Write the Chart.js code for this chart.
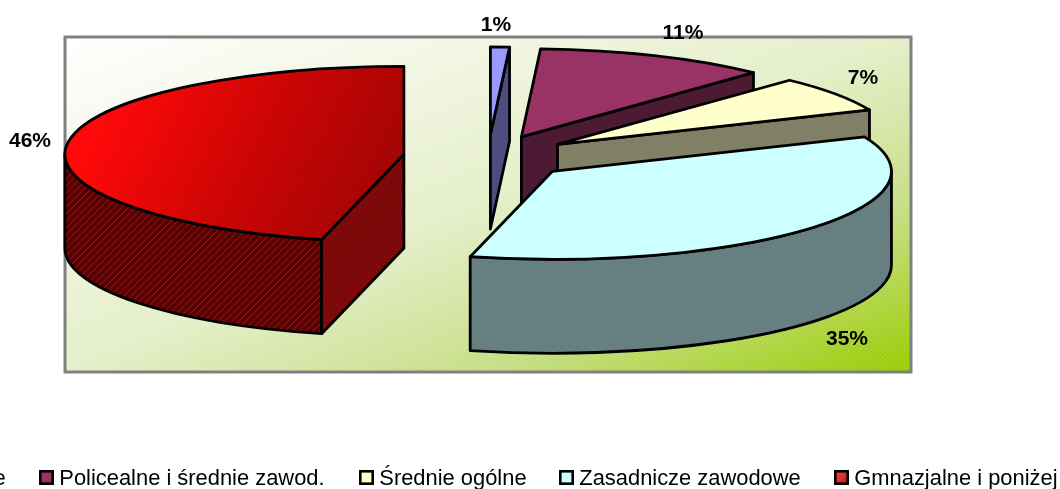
<!DOCTYPE html>
<html>
<head>
<meta charset="utf-8">
<style>
  html, body { margin: 0; padding: 0; background: #fff; overflow: hidden; }
  canvas { display: block; }
</style>
</head>
<body>
<canvas id="myChart" width="1060" height="489"></canvas>
<script src="https://cdn.jsdelivr.net/npm/chart.js@4"></script>
<script>
const categories = ["Wyższe", "Policealne i średnie zawod.", "Średnie ogólne", "Zasadnicze zawodowe", "Gmnazjalne i poniżej"];
const shares = [0.9, 11.1, 6.6, 35.3, 46.1];
const topColors = ["#9999FF", "#993366", "#FFFFCC", "#CCFFFF", "#FF0000"];
const wallColors = ["#4D4D80", "#4D1A33", "#808066", "#667F80", "#5A0000"];

// layout of the tilted pie on the page
const pie = { cx: 488, cy: 157, rx: 339, ry: 88, depth: 94, explode: 0.25 };
const plotBox = { x: 65, y: 37, w: 846, h: 335 };
const labelSpots = [[496, 25], [683, 33], [863, 78], [847, 339], [30, 141]];
const legendSpots = [-91, 39, 359, 559, 834];
const legendStyle = { y: 470, box: 15, gap: 5.3, font: "21.9px 'Liberation Sans'" };
const hatchedSlice = 4;

function hatch(size, color, width) {
  const c = document.createElement("canvas");
  c.width = c.height = size;
  const g = c.getContext("2d");
  g.strokeStyle = color;
  g.lineWidth = width;
  g.beginPath();
  g.moveTo(-1, 1);
  g.lineTo(1, -1);
  g.moveTo(0, size);
  g.lineTo(size, 0);
  g.moveTo(size - 1, size + 1);
  g.lineTo(size + 1, size - 1);
  g.stroke();
  return c;
}

function drawPlotBox(ctx, patterns) {
  const { x, y, w, h } = plotBox;
  ctx.save();
  ctx.save();
  ctx.translate(x, y);
  ctx.scale(w, h);
  const grad = ctx.createLinearGradient(0, 0, 1, 1);
  grad.addColorStop(0, "#FFFFFF");
  grad.addColorStop(0.5, "#E4EEC8");
  grad.addColorStop(0.75, "#C6DE85");
  grad.addColorStop(1, "#99CC00");
  ctx.fillStyle = grad;
  ctx.fillRect(0, 0, 1, 1);
  ctx.restore();
  ctx.fillStyle = patterns.paper;
  ctx.fillRect(x, y, w, h);
  ctx.strokeStyle = "#808080";
  ctx.lineWidth = 3;
  ctx.strokeRect(x, y, w, h);
  ctx.restore();
}

function sliceGeometry(arc) {
  const mid = (arc.startAngle + arc.endAngle) / 2;
  return {
    x: pie.cx + Math.cos(mid) * pie.explode * pie.rx,
    y: pie.cy + Math.sin(mid) * pie.explode * pie.ry,
    a0: arc.startAngle,
    a1: arc.endAngle
  };
}

function rim(s, angle, z) {
  return [s.x + Math.cos(angle) * pie.rx, s.y + Math.sin(angle) * pie.ry + z];
}

function cutFace(ctx, s, angle) {
  const p = rim(s, angle, 0);
  ctx.beginPath();
  ctx.moveTo(s.x, s.y);
  ctx.lineTo(p[0], p[1]);
  ctx.lineTo(p[0], p[1] + pie.depth);
  ctx.lineTo(s.x, s.y + pie.depth);
  ctx.closePath();
}

function topPath(ctx, s) {
  ctx.beginPath();
  ctx.moveTo(s.x, s.y);
  ctx.ellipse(s.x, s.y, pie.rx, pie.ry, 0, s.a0, s.a1);
  ctx.closePath();
}

function drawSlice(ctx, arc, i, patterns) {
  const s = sliceGeometry(arc);
  const red = i === hatchedSlice;
  ctx.lineWidth = 2.8;
  ctx.strokeStyle = "#000";
  ctx.lineJoin = "round";

  // outer wall, only the part facing the viewer
  const from = Math.max(s.a0, 0);
  const to = Math.min(s.a1, Math.PI);
  if (to > from) {
    ctx.beginPath();
    ctx.ellipse(s.x, s.y, pie.rx, pie.ry, 0, from, to);
    ctx.ellipse(s.x, s.y + pie.depth, pie.rx, pie.ry, 0, to, from, true);
    ctx.closePath();
    ctx.fillStyle = wallColors[i];
    ctx.fill();
    if (red) {
      ctx.fillStyle = patterns.wide;
      ctx.fill();
    }
    ctx.stroke();
  }

  // cut faces turned towards the viewer
  const cuts = [];
  if (Math.cos(s.a0) < 0) cuts.push(s.a0);
  if (Math.cos(s.a1) > 1e-9) cuts.push(s.a1);
  cuts.forEach((angle) => {
    cutFace(ctx, s, angle);
    ctx.fillStyle = red ? "#760606" : wallColors[i];
    ctx.fill();
    if (red) {
      ctx.fillStyle = patterns.fine;
      ctx.fill();
    }
    ctx.stroke();
  });

  // top face: the library's own arc, squashed into the tilted ellipse
  ctx.save();
  ctx.translate(s.x, s.y);
  ctx.scale(pie.rx / arc.outerRadius, pie.ry / arc.outerRadius);
  ctx.translate(-arc.x, -arc.y);
  arc.draw(ctx);
  ctx.restore();

  topPath(ctx, s);
  if (red) {
    const grad = ctx.createLinearGradient(s.x - pie.rx, s.y - pie.ry, s.x, s.y + pie.ry);
    grad.addColorStop(0.15, "#FF0505");
    grad.addColorStop(0.55, "#C80000");
    grad.addColorStop(1, "#900000");
    ctx.fillStyle = grad;
    ctx.fill();
    ctx.fillStyle = patterns.fine;
    ctx.fill();
  }
  ctx.stroke();
}

function drawLabels(ctx) {
  ctx.save();
  ctx.font = "bold 21px 'Liberation Sans'";
  ctx.fillStyle = "#000";
  ctx.textAlign = "center";
  ctx.textBaseline = "middle";
  shares.forEach((v, i) => {
    const spot = labelSpots[i];
    ctx.fillText(Math.round(v) + "%", spot[0], spot[1]);
  });
  ctx.restore();
}

function drawLegend(ctx) {
  const st = legendStyle;
  ctx.save();
  ctx.font = st.font;
  ctx.textAlign = "left";
  ctx.textBaseline = "middle";
  categories.forEach((name, i) => {
    const x = legendSpots[i];
    if (i === hatchedSlice) {
      const g = ctx.createLinearGradient(x, st.y, x + st.box, st.y + st.box);
      g.addColorStop(0, "#F25050");
      g.addColorStop(1, "#C01010");
      ctx.fillStyle = g;
    } else {
      ctx.fillStyle = topColors[i];
    }
    ctx.strokeStyle = "#000";
    ctx.lineWidth = 2.6;
    ctx.fillRect(x + 1.3, st.y + 1.3, st.box - 2.6, st.box - 2.6);
    ctx.strokeRect(x + 1.3, st.y + 1.3, st.box - 2.6, st.box - 2.6);
    ctx.fillStyle = "#000";
    ctx.fillText(name, x + st.box + st.gap, st.y + st.box / 2 + 1);
  });
  ctx.restore();
}

const tiltedPie = {
  id: "tiltedPie",
  beforeDatasetsDraw(chart) {
    const ctx = chart.ctx;
    const patterns = {
      wide: ctx.createPattern(hatch(7, "rgba(255,110,110,0.28)", 1), "repeat"),
      fine: ctx.createPattern(hatch(3, "rgba(255,70,70,0.18)", 1), "repeat"),
      paper: ctx.createPattern(hatch(5, "rgba(255,255,255,0.12)", 1), "repeat")
    };
    drawPlotBox(ctx, patterns);
    const arcs = chart.getDatasetMeta(0).data;
    ctx.save();
    arcs.forEach((arc, i) => drawSlice(ctx, arc, i, patterns));
    ctx.restore();
    drawLabels(ctx);
    drawLegend(ctx);
    return false;
  }
};

const myChart = new Chart(document.getElementById("myChart").getContext("2d"), {
  type: "pie",
  data: {
    labels: categories,
    datasets: [
      {
        data: shares,
        backgroundColor: topColors,
        borderWidth: 0
      }
    ]
  },
  options: {
    responsive: false,
    animation: false,
    events: [],
    plugins: {
      legend: { display: false },
      tooltip: { enabled: false }
    }
  },
  plugins: [tiltedPie]
});
</script>
</body>
</html>
